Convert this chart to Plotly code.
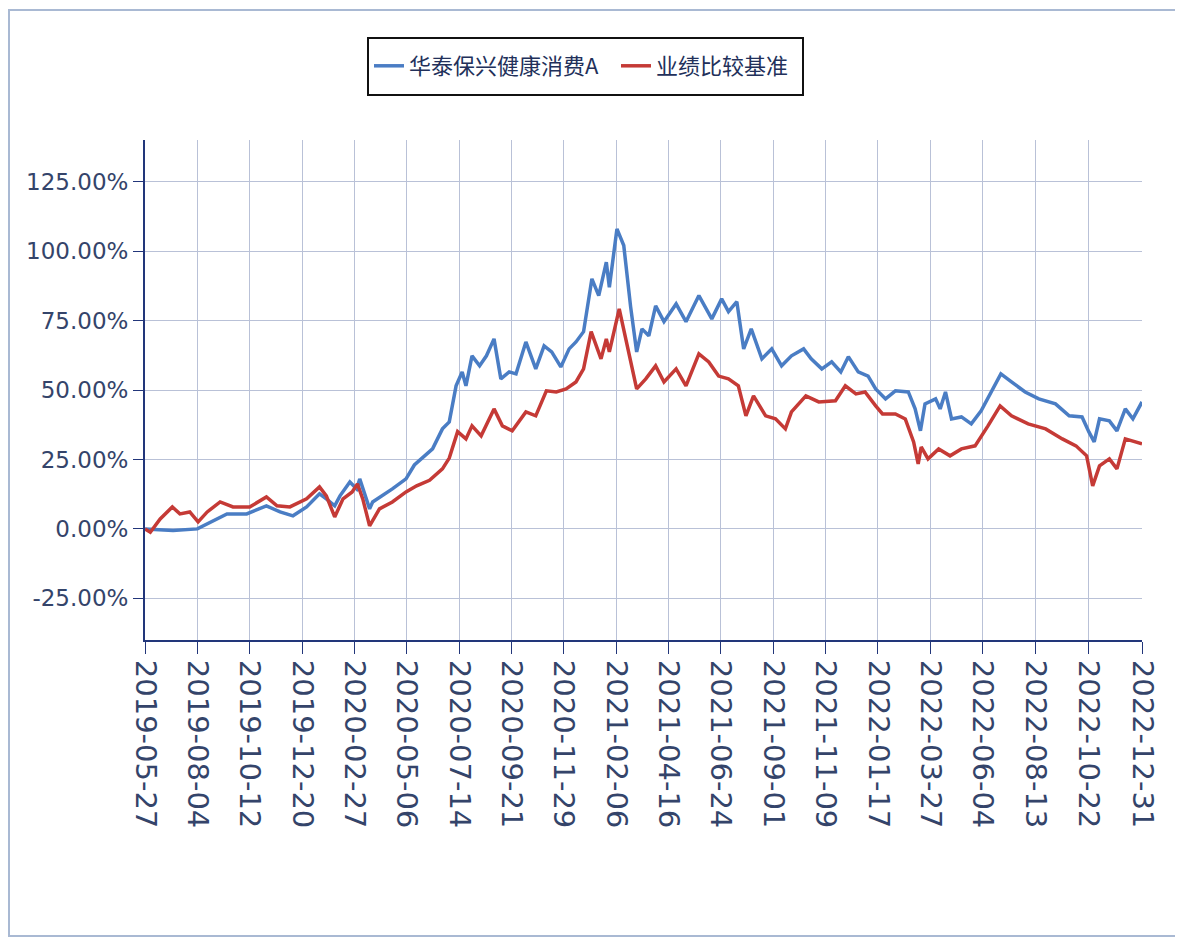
import plotly.graph_objects as go

# ---- data ----
fund_name = "华泰保兴健康消费A"
bench_name = "业绩比较基准"

fund_dates = [
    "2019-05-27", "2019-07-03", "2019-08-04", "2019-08-30", "2019-09-12", "2019-10-08",
    "2019-11-03", "2019-11-21", "2019-12-08", "2019-12-26", "2020-01-12", "2020-01-21",
    "2020-02-01", "2020-02-08", "2020-02-21", "2020-03-01", "2020-03-05", "2020-03-18",
    "2020-03-22", "2020-04-17", "2020-05-05", "2020-05-16", "2020-06-09", "2020-06-22",
    "2020-07-01", "2020-07-10", "2020-07-18", "2020-07-23", "2020-07-31", "2020-08-10",
    "2020-08-19", "2020-08-29", "2020-09-07", "2020-09-18", "2020-09-27", "2020-10-10",
    "2020-10-23", "2020-11-03", "2020-11-13", "2020-11-25", "2020-12-06", "2020-12-15",
    "2020-12-25", "2021-01-05", "2021-01-14", "2021-01-24", "2021-01-28", "2021-02-07",
    "2021-02-16", "2021-02-25", "2021-03-05", "2021-03-12", "2021-03-21", "2021-03-30",
    "2021-04-10", "2021-04-26", "2021-05-09", "2021-05-26", "2021-06-12", "2021-06-25",
    "2021-07-04", "2021-07-15", "2021-07-24", "2021-08-03", "2021-08-17", "2021-08-30",
    "2021-09-12", "2021-09-25", "2021-10-11", "2021-10-21", "2021-11-04", "2021-11-17",
    "2021-11-29", "2021-12-09", "2021-12-22", "2022-01-04", "2022-01-14", "2022-01-27",
    "2022-02-09", "2022-02-26", "2022-03-07", "2022-03-14", "2022-03-20", "2022-04-03",
    "2022-04-09", "2022-04-16", "2022-04-24", "2022-05-07", "2022-05-20", "2022-06-02",
    "2022-06-15", "2022-06-28", "2022-07-12", "2022-07-30", "2022-08-17", "2022-09-08",
    "2022-09-26", "2022-10-13", "2022-10-22", "2022-10-29", "2022-11-05", "2022-11-18",
    "2022-11-28", "2022-12-09", "2022-12-19", "2022-12-31",
]
fund_vals = [
    0.0, -0.6, 0.0, 3.6, 5.4, 5.4,
    8.3, 6.1, 4.7, 7.9, 12.6, 10.8,
    8.3, 11.9, 16.9, 14.4, 18.0, 7.2,
    9.7, 14.4, 18.0, 23.0, 28.8, 36.0,
    38.5, 51.5, 56.5, 51.5, 62.3, 58.7,
    62.3, 68.4, 54.0, 56.5, 55.8, 67.3,
    57.6, 65.9, 63.7, 58.3, 64.8, 67.3,
    71.0, 90.0, 84.0, 96.0, 87.0, 108.0,
    102.0, 80.0, 63.7, 72.0, 69.5, 80.3,
    74.6, 81.0, 74.6, 84.0, 75.6, 82.8,
    78.2, 81.8, 64.8, 72.0, 61.2, 64.8,
    58.7, 62.3, 64.8, 61.2, 57.6, 60.1,
    56.5, 62.0, 56.5, 55.0, 50.4, 46.8,
    49.7, 49.3, 43.2, 35.3, 45.0, 46.8,
    43.2, 49.3, 39.6, 40.3, 37.8, 42.5,
    49.3, 55.8, 52.9, 49.3, 46.8, 45.0,
    40.7, 40.3, 34.9, 31.3, 39.6, 38.9,
    35.3, 43.2, 39.6, 45.7,
]

bench_dates = [
    "2019-05-27", "2019-06-03", "2019-06-16", "2019-07-02", "2019-07-12", "2019-07-25",
    "2019-08-05", "2019-08-17", "2019-09-03", "2019-09-20", "2019-10-12", "2019-11-03",
    "2019-11-17", "2019-12-04", "2019-12-26", "2020-01-12", "2020-01-21", "2020-02-01",
    "2020-02-12", "2020-02-24", "2020-03-02", "2020-03-09", "2020-03-18", "2020-03-31",
    "2020-04-17", "2020-05-05", "2020-05-19", "2020-06-05", "2020-06-22", "2020-07-01",
    "2020-07-12", "2020-07-23", "2020-07-31", "2020-08-12", "2020-08-29", "2020-09-09",
    "2020-09-22", "2020-10-10", "2020-10-23", "2020-11-06", "2020-11-19", "2020-12-02",
    "2020-12-15", "2020-12-25", "2021-01-04", "2021-01-17", "2021-01-24", "2021-01-28",
    "2021-02-10", "2021-02-23", "2021-03-05", "2021-03-17", "2021-03-30", "2021-04-10",
    "2021-04-26", "2021-05-09", "2021-05-26", "2021-06-08", "2021-06-21", "2021-07-04",
    "2021-07-17", "2021-07-27", "2021-08-06", "2021-08-22", "2021-09-04", "2021-09-17",
    "2021-09-25", "2021-10-14", "2021-10-31", "2021-11-22", "2021-12-05", "2021-12-19",
    "2021-12-31", "2022-01-14", "2022-01-23", "2022-02-09", "2022-02-22", "2022-03-05",
    "2022-03-11", "2022-03-15", "2022-03-24", "2022-04-07", "2022-04-22", "2022-05-07",
    "2022-05-25", "2022-06-11", "2022-06-27", "2022-07-12", "2022-08-03", "2022-08-26",
    "2022-09-17", "2022-10-05", "2022-10-19", "2022-10-27", "2022-11-05", "2022-11-18",
    "2022-11-28", "2022-12-09", "2022-12-24", "2022-12-31",
]
bench_vals = [
    0.0, -1.2, 3.6, 7.9, 5.4, 6.1,
    2.5, 6.1, 9.7, 7.9, 7.9, 11.5,
    8.3, 7.9, 10.8, 15.1, 11.9, 4.3,
    10.8, 13.3, 16.2, 10.8, 1.1, 7.2,
    9.7, 13.3, 15.5, 17.5, 21.6, 25.5,
    35.0, 32.4, 37.1, 33.5, 43.2, 37.1,
    35.3, 42.1, 40.7, 49.7, 49.3, 50.4,
    52.9, 57.6, 71.0, 61.2, 68.4, 63.7,
    79.2, 63.7, 50.4, 54.0, 58.7, 52.9,
    57.6, 51.5, 63.0, 60.1, 55.0, 54.0,
    51.5, 40.7, 47.9, 40.7, 39.6, 36.0,
    42.1, 47.9, 45.7, 46.1, 51.5, 48.6,
    49.3, 44.3, 41.4, 41.4, 39.6, 31.3,
    23.4, 29.5, 25.2, 28.8, 26.3, 28.8,
    29.9, 37.1, 44.3, 40.7, 37.8, 36.0,
    32.4, 29.9, 26.3, 15.5, 22.7, 25.2,
    21.6, 32.4, 31.3, 30.6,
]

x_ticks = [
    "2019-05-27", "2019-08-04", "2019-10-12", "2019-12-20", "2020-02-27", "2020-05-06",
    "2020-07-14", "2020-09-21", "2020-11-29", "2021-02-06", "2021-04-16", "2021-06-24",
    "2021-09-01", "2021-11-09", "2022-01-17", "2022-03-27", "2022-06-04", "2022-08-13",
    "2022-10-22", "2022-12-31",
]
y_ticks = [-25, 0, 25, 50, 75, 100, 125]
y_tick_labels = ["-25.00%", "0.00%", "25.00%", "50.00%", "75.00%", "100.00%", "125.00%"]

# ---- figure (page body has an 8px margin) ----
OFF = 8
W, H = 1183 - OFF, 938 - OFF
# target plot area in window pixels: x 145..1142, y 140..640
ML, MR, MT, MB = 145 - OFF, 1183 - 1142, 140 - OFF, 938 - 640
pw, ph = W - ML - MR, H - MT - MB

def px_x(p):  # window px -> paper fraction
    return (p - OFF - ML) / pw

def px_y(p):
    return (H - MB - (p - OFF)) / ph

BLUE = "#4a7dc4"
RED = "#c53a36"
AXIS = "#22367a"
TXT = "#34446a"
GRID = "#b9c1d7"

fig = go.Figure()
fig.add_trace(go.Scatter(x=fund_dates, y=fund_vals, mode="lines", name=fund_name,
                         line=dict(color=BLUE, width=3.5)))
fig.add_trace(go.Scatter(x=bench_dates, y=bench_vals, mode="lines", name=bench_name,
                         line=dict(color=RED, width=3.5)))

fig.update_layout(
    width=W, height=H,
    margin=dict(l=ML, r=MR, t=MT, b=MB),
    paper_bgcolor="white", plot_bgcolor="white",
    font=dict(family="DejaVu Sans, Noto Sans CJK SC", color=TXT),
    showlegend=True,
    legend=dict(
        orientation="h", x=px_x(369), xanchor="left", y=px_y(66), yanchor="middle",
        borderwidth=0, bgcolor="rgba(0,0,0,0)",
        font=dict(family="Noto Sans CJK SC", size=22, color="#22305a"),
        itemwidth=30, traceorder="normal",
        entrywidth=202, entrywidthmode="pixels",
    ),
    xaxis=dict(
        type="date", range=[x_ticks[0], x_ticks[-1]],
        tickmode="array", tickvals=x_ticks, ticktext=x_ticks,
        tickangle=90, tickfont=dict(size=29, color=TXT, family="DejaVu Sans"),
        ticks="outside", ticklen=12, tickcolor=AXIS, tickwidth=1,
        showline=True, linecolor=AXIS, linewidth=2,
        showgrid=True, gridcolor=GRID, gridwidth=1, zeroline=False,
    ),
    yaxis=dict(
        range=[-40, 140], tickmode="array", tickvals=y_ticks, ticktext=y_tick_labels,
        tickfont=dict(size=23, color=TXT, family="DejaVu Sans"),
        ticks="outside", ticklen=10, tickcolor=AXIS, tickwidth=1,
        showline=True, linecolor=AXIS, linewidth=2,
        showgrid=True, gridcolor=GRID, gridwidth=1, zeroline=False,
    ),
    shapes=[
        dict(type="rect", xref="paper", yref="paper",
             x0=px_x(9), x1=px_x(1176), y0=px_y(936), y1=px_y(10),
             line=dict(color="#a9b9d3", width=2), fillcolor="rgba(0,0,0,0)", layer="below"),
        dict(type="rect", xref="paper", yref="paper",
             x0=px_x(368), x1=px_x(803), y0=px_y(95), y1=px_y(38),
             line=dict(color="#111111", width=2), fillcolor="white", layer="below"),
    ],
)

fig.write_html("out.html")
